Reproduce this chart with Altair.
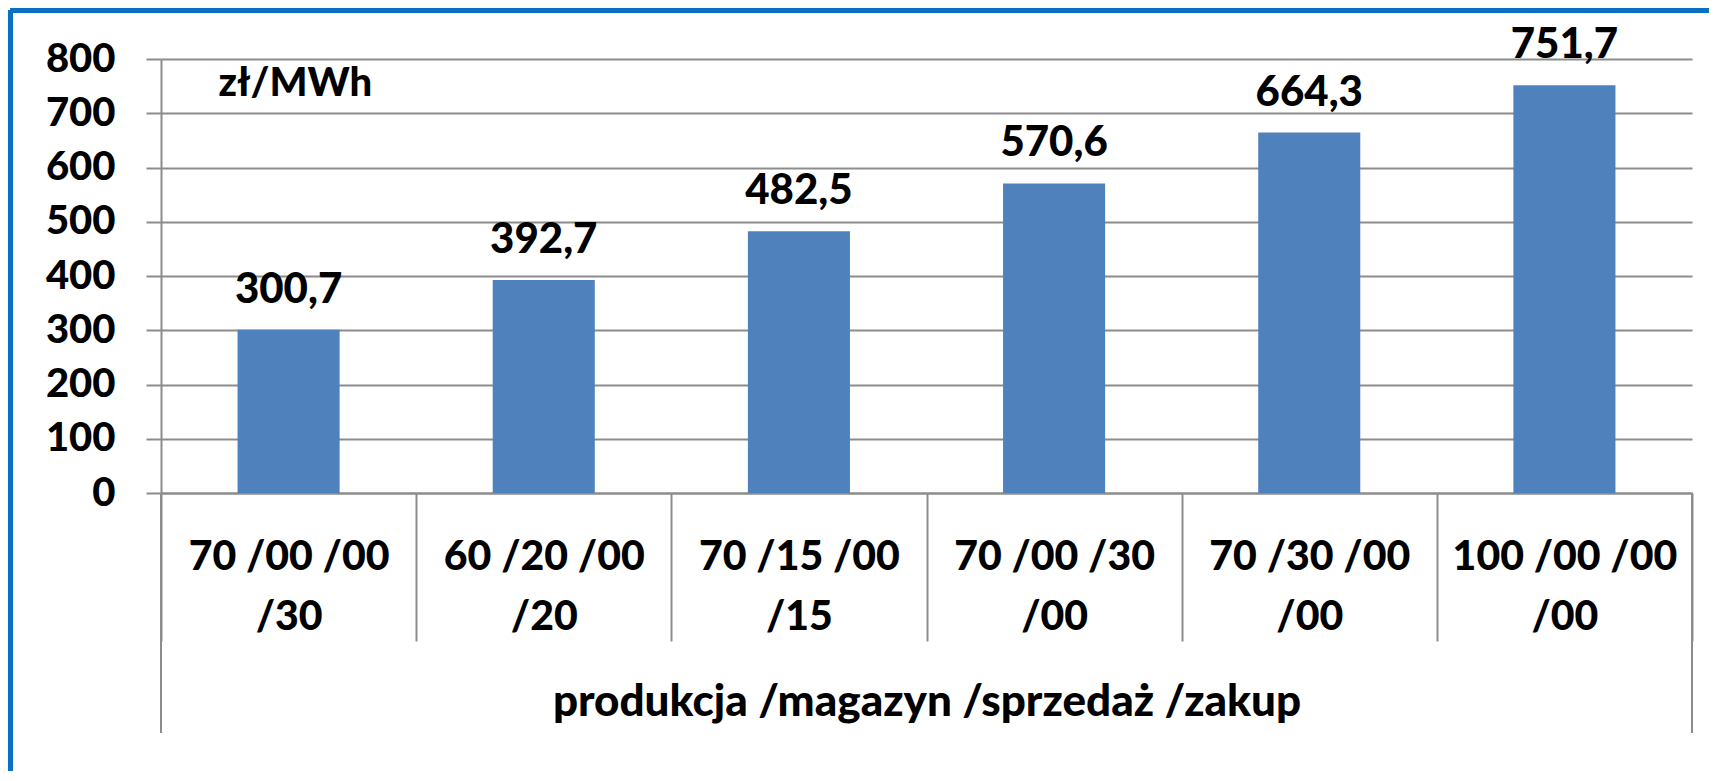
import altair as alt
import pandas as pd

# ---- data ----
categories = [
    "70 /00 /00\n/30",
    "60 /20 /00\n/20",
    "70 /15 /00\n/15",
    "70 /00 /30\n/00",
    "70 /30 /00\n/00",
    "100 /00 /00\n/00",
]
values = [300.7, 392.7, 482.5, 570.6, 664.3, 751.7]
y_ticks = [0, 100, 200, 300, 400, 500, 600, 700, 800]
unit_label = "zł/MWh"
x_title = "produkcja /magazyn /sprzedaż /zakup"

# ---- style ----
W, H = 1531, 434
FONT = "Lato"
WEIGHT = 900
GRID = "#8c8c8c"
BAR = "#4f81bd"
BORDER = "#0a70c4"

df = pd.DataFrame({"cat": categories, "value": values})

x_enc = alt.X(
    "cat:N",
    sort=categories,
    scale=alt.Scale(paddingInner=0, paddingOuter=0),
    axis=alt.Axis(
        title=x_title,
        labelExpr="split(datum.label, '\\n')",
        labelAngle=0,
        labelLimit=0,
        tickBand="extent",
        tickSize=148,
        tickWidth=2,
        tickColor=GRID,
        domainColor=GRID,
        domainWidth=2,
        labelFont=FONT,
        labelFontSize=41,
        labelFontWeight=WEIGHT,
        labelColor="black",
        labelLineHeight=60,
        labelBaseline="top",
        labelPadding=-104,
        titleFont=FONT,
        titleFontSize=44,
        titleFontWeight=WEIGHT,
        titleColor="black",
        titlePadding=38,
    ),
)

y_enc = alt.Y(
    "value:Q",
    scale=alt.Scale(domain=[0, 800], nice=False),
    axis=alt.Axis(
        values=y_ticks,
        title=unit_label,
        titleAngle=0,
        titleAlign="left",
        titleBaseline="alphabetic",
        titleX=57,
        titleY=36,
        titleFont=FONT,
        titleFontSize=40,
        titleFontWeight=WEIGHT,
        titleColor="black",
        labelFont=FONT,
        labelFontSize=40,
        labelFontWeight=WEIGHT,
        labelColor="black",
        labelPadding=31,
        tickSize=15,
        tickWidth=2,
        tickColor=GRID,
        domainColor=GRID,
        domainWidth=2,
        gridColor=GRID,
        gridWidth=2,
    ),
)

base = alt.Chart(df)

bars = base.mark_bar(width=alt.RelativeBandSize(0.4), color=BAR).encode(x=x_enc, y=y_enc)

labels = (
    base.transform_calculate(label="replace(format(datum.value, '.1f'), '.', ',')")
    .mark_text(dy=-27, baseline="alphabetic", font=FONT, fontSize=42, fontWeight=WEIGHT, color="black")
    .encode(x=alt.X("cat:N", sort=categories), y="value:Q", text="label:N")
)

# outer separators of the category box (longer than inner ticks)
sep_left = base.mark_rule(color=GRID, strokeWidth=2).encode(
    x=alt.value(0), y=alt.value(H), y2=alt.value(H + 240)
)
sep_right = base.mark_rule(color=GRID, strokeWidth=2).encode(
    x=alt.value(W), y=alt.value(H), y2=alt.value(H + 240)
)

# blue frame (left and top edges)
frame_left = base.mark_rule(color=BORDER, strokeWidth=5).encode(
    x=alt.value(-150.5), y=alt.value(-48.5), y2=alt.value(712)
)
frame_top = base.mark_rule(color=BORDER, strokeWidth=5).encode(
    x=alt.value(-150.5), x2=alt.value(1548), y=alt.value(-48.5)
)

chart = (
    alt.layer(bars, labels, sep_left, sep_right, frame_left, frame_top)
    .properties(width=W, height=H, padding=0, background="white")
    .configure_view(stroke=None)
)

chart.save("out.html", embed_options={"renderer": "svg", "actions": False})
